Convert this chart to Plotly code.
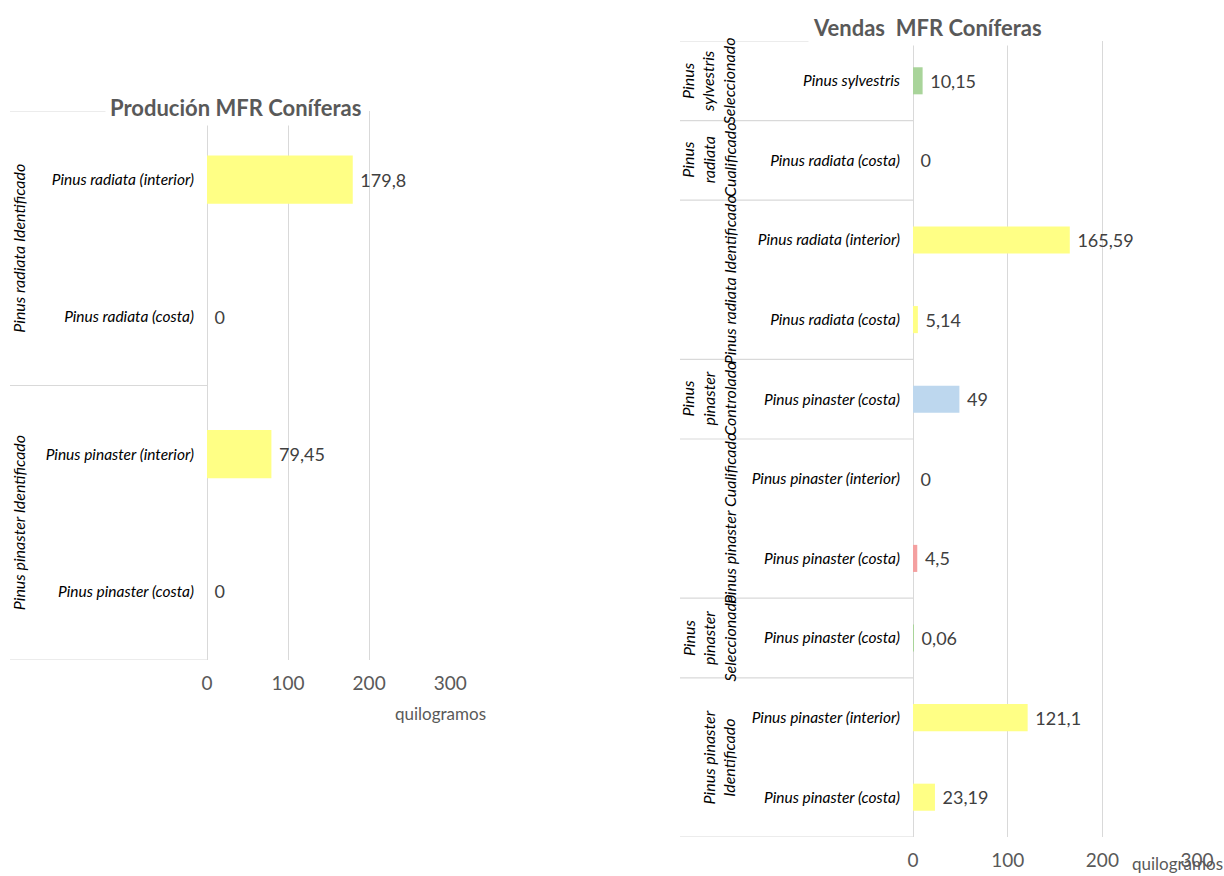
import plotly.graph_objects as go

W, H = 1224, 876

# --- data: Produción ---
prod_groups = ["Pinus radiata Identificado", "Pinus pinaster Identificado"]
prod_items = [["Pinus radiata (interior)", "Pinus radiata (costa)"],
              ["Pinus pinaster (interior)", "Pinus pinaster (costa)"]]
prod_values = [[179.8, 0], [79.45, 0]]
prod_types = ["Identificado", "Identificado"]

# --- data: Vendas ---
sales_groups = ["Pinus<br>sylvestris<br>Seleccionado", "Pinus<br>radiata<br>Cualificado",
                "Pinus radiata Identificado", "Pinus<br>pinaster<br>Controlado",
                "Pinus pinaster Cualificado", "Pinus<br>pinaster<br>Seleccionado",
                "Pinus pinaster<br>Identificado"]
sales_items = [["Pinus sylvestris"], ["Pinus radiata (costa)"],
               ["Pinus radiata (interior)", "Pinus radiata (costa)"],
               ["Pinus pinaster (costa)"],
               ["Pinus pinaster (interior)", "Pinus pinaster (costa)"],
               ["Pinus pinaster (costa)"],
               ["Pinus pinaster (interior)", "Pinus pinaster (costa)"]]
sales_values = [[10.15], [0], [165.59, 5.14], [49], [0, 4.5], [0.06], [121.1, 23.19]]
sales_types = ["Seleccionado", "Cualificado", "Identificado", "Controlado",
               "Cualificado", "Seleccionado", "Identificado"]

x_ticks = [0, 100, 200, 300]

type_colors = {"Identificado": "#FFFF85", "Seleccionado": "#A9D49A",
               "Controlado": "#BDD7EE", "Cualificado": "#F4A0A0"}

FONT = "Lato"
GRAY = "#595959"
LINE = "#D9D9D9"


def px_x(p):
    return p / W


def px_y(p):
    return 1 - p / H


def fmt(v):
    return "\u00a0" + f"{v:g}".replace(".", ",")


fig = go.Figure()


def add_panel(groups, items, values, types, xa, ya, sep_left, axis_px, label_right,
              bar_w, label_size):
    names, vals, cols, pos = [], [], [], []
    bounds = [-0.5]
    centers = []
    i = 0
    for g, its, vs, t in zip(groups, items, values, types):
        start = i
        for it, v in zip(its, vs):
            names.append(it)
            vals.append(v)
            cols.append(type_colors[t])
            pos.append(i)
            i += 1
        bounds.append(i - 0.5)
        centers.append((start + i - 1) / 2)
    fig.add_trace(go.Bar(
        x=vals, y=pos, orientation="h", width=bar_w,
        marker=dict(color=cols, line=dict(width=0)),
        text=[fmt(v) for v in vals], textposition="outside",
        textfont=dict(family=FONT, size=18, color="#404040"),
        cliponaxis=False, xaxis=xa, yaxis=ya, showlegend=False,
    ))
    for b in bounds:
        fig.add_shape(type="line", xref="paper", yref=ya,
                      x0=px_x(sep_left), x1=px_x(axis_px), y0=b, y1=b,
                      line=dict(color=LINE, width=1.2))
    for g, c in zip(groups, centers):
        fig.add_annotation(text=g, xref="paper", yref=ya, x=px_x(label_right), y=c,
                           xanchor="right", yanchor="middle", textangle=-90,
                           showarrow=False, align="center",
                           font=dict(family=FONT, size=label_size, color="#000000", style="italic"))
    return pos, names


pos_l, names_l = add_panel(prod_groups, prod_items, prod_values, prod_types,
                           "x", "y", 10, 207, 30, 0.35, 16)
pos_r, names_r = add_panel(sales_groups, sales_items, sales_values, sales_types,
                           "x2", "y2", 680, 913, 741, 0.34, 16)

axis_common = dict(range=[0, 301], tickvals=x_ticks, showgrid=True, gridcolor=LINE,
                   gridwidth=1.2, zeroline=True, zerolinecolor=LINE, zerolinewidth=1.2,
                   showline=False, ticks="", ticklabelstandoff=10,
                   tickfont=dict(family=FONT, size=19, color=GRAY))
cat_font = dict(family=FONT, size=15.5, color="#000000", style="italic")

fig.update_layout(
    width=W, height=H, autosize=False,
    margin=dict(l=0, r=0, t=0, b=0, autoexpand=False),
    paper_bgcolor="white", plot_bgcolor="white",
    xaxis=dict(domain=[px_x(207), px_x(451)], anchor="y", **axis_common),
    yaxis=dict(domain=[px_y(660), px_y(111)], anchor="x", range=[len(pos_l) - 0.5, -0.5],
               tickvals=pos_l, ticktext=names_l, showgrid=False, zeroline=False,
               ticks="", ticklabelstandoff=12, tickfont=cat_font),
    xaxis2=dict(domain=[px_x(913), px_x(1198)], anchor="y2", **axis_common),
    yaxis2=dict(domain=[px_y(837), px_y(41)], anchor="x2", range=[len(pos_r) - 0.5, -0.5],
                tickvals=pos_r, ticktext=names_r, showgrid=False, zeroline=False,
                ticks="", ticklabelstandoff=12, tickfont=cat_font),
)

# titles (white box covers the top separator line like in the original)
fig.add_annotation(text="<b>Produción MFR Coníferas</b>", xref="paper", yref="paper",
                   x=px_x(235), y=px_y(107), xanchor="center", yanchor="middle",
                   showarrow=False, bgcolor="white", borderpad=4,
                   font=dict(family=FONT, size=22, color=GRAY))
fig.add_annotation(text="<b>Vendas  MFR Coníferas</b>", xref="paper", yref="paper",
                   x=px_x(927), y=px_y(27), xanchor="center", yanchor="middle",
                   showarrow=False, bgcolor="white", borderpad=4,
                   font=dict(family=FONT, size=22, color=GRAY))

# axis titles
fig.add_annotation(text="quilogramos", xref="paper", yref="paper",
                   x=px_x(440), y=px_y(713), xanchor="center", yanchor="middle",
                   showarrow=False, font=dict(family=FONT, size=17, color=GRAY))
fig.add_annotation(text="quilogramos", xref="paper", yref="paper",
                   x=px_x(1177), y=px_y(876), xanchor="center", yanchor="bottom",
                   showarrow=False, font=dict(family=FONT, size=17, color=GRAY))

# fixed size page: no body margin, no scrollbars, no responsive resizing
fig.write_html("out.html",
               config={"responsive": False, "displayModeBar": False},
               post_script="document.body.style.margin='0';"
                           "document.body.style.overflow='hidden';")
